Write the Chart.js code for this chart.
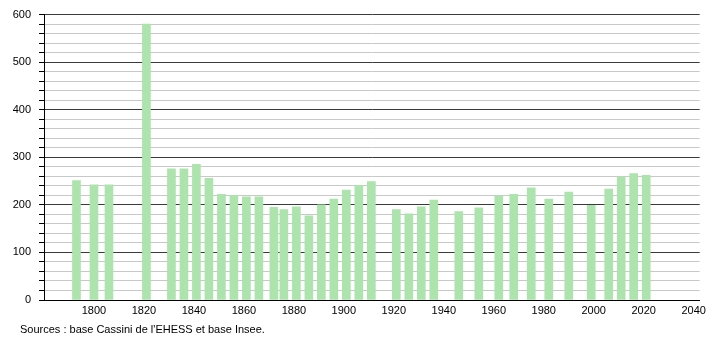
<!DOCTYPE html>
<html>
<head>
<meta charset="utf-8">
<script src="https://cdn.jsdelivr.net/npm/chart.js@4/dist/chart.umd.min.js"></script>
<style>
  html, body { margin: 0; padding: 0; background: #fff; }
  #wrap { width: 710px; height: 340px; }
</style>
</head>
<body>
<div id="wrap"><canvas id="popChart" width="710" height="340"></canvas></div>
<script>
// census years and population values
const years = [1793, 1800, 1806, 1821, 1831, 1836, 1841, 1846, 1851, 1856, 1861, 1866, 1872, 1876, 1881, 1886, 1891, 1896, 1901, 1906, 1911, 1921, 1926, 1931, 1936, 1946, 1954, 1962, 1968, 1975, 1982, 1990, 1999, 2006, 2011, 2016, 2021];
const population = [251, 242, 242, 580, 276, 276, 285, 256, 222, 220, 217, 217, 195, 190, 196, 177, 200, 212, 231, 241, 249, 190, 181, 196, 210, 186, 194, 219, 222, 236, 212, 227, 199, 233, 259, 266, 262];
const xTickYears = [1800, 1820, 1840, 1860, 1880, 1900, 1920, 1940, 1960, 1980, 2000, 2020, 2040];
const sourceText = "Sources : base Cassini de l'EHESS et base Insee.";

const FONT = "'Liberation Sans', Arial, sans-serif";

// footnote under the chart
const sourcePlugin = {
    id: 'sourceNote',
    afterDraw(chart) {
        const ctx = chart.ctx;
        ctx.save();
        ctx.font = "11px " + FONT;
        ctx.fillStyle = '#000';
        ctx.textBaseline = 'middle';
        ctx.textAlign = 'left';
        ctx.fillText(sourceText, 20, 330);
        ctx.restore();
    }
};

const ctx = document.getElementById('popChart').getContext('2d');
new Chart(ctx, {
    type: 'bar',
    data: {
        datasets: [{
            data: years.map((yr, i) => ({ x: yr, y: population[i] })),
            backgroundColor: '#ade3ad',
            borderWidth: 0,
            barThickness: 8
        }]
    },
    options: {
        responsive: false,
        animation: false,
        devicePixelRatio: 1,
        layout: { padding: { left: 0, right: 9, top: 10, bottom: 0 } },
        plugins: {
            legend: { display: false },
            tooltip: { enabled: false }
        },
        scales: {
            x: {
                type: 'linear',
                offset: false,
                min: 1780,
                max: 2042.4,
                afterBuildTicks(scale) {
                    scale.ticks = xTickYears.map(v => ({ value: v }));
                },
                afterFit(scale) { scale.height = 40; },
                grid: { display: false, drawTicks: false, offset: false },
                border: { display: true, color: '#000', width: 1 },
                ticks: {
                    autoSkip: false,
                    maxRotation: 0,
                    padding: 4,
                    color: '#000',
                    font: { family: FONT, size: 11 },
                    callback: v => String(v)
                }
            },
            y: {
                min: 0,
                max: 600,
                z: -1,
                afterFit(scale) { scale.width = 44; },
                grid: {
                    color: c => (c.tick && c.tick.value % 100 === 0) ? '#3a3a3a' : '#c8c8c8',
                    lineWidth: 1,
                    tickLength: 5,
                    tickColor: '#000'
                },
                border: { display: true, color: '#000', width: 1 },
                ticks: {
                    stepSize: 20,
                    autoSkip: false,
                    padding: 8,
                    color: '#000',
                    font: { family: FONT, size: 11 },
                    callback: v => (v % 100 === 0 ? String(v) : '')
                }
            }
        }
    },
    plugins: [sourcePlugin]
});
</script>
</body>
</html>
